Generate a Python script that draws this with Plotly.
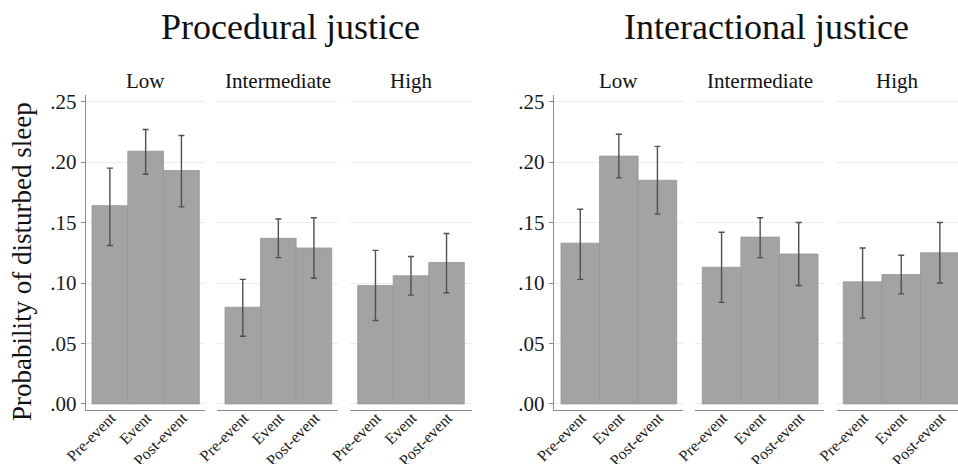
import plotly.graph_objects as go

# ---------------- data ----------------
periods = ["Pre-event", "Event", "Post-event"]
levels = ["Low", "Intermediate", "High"]
panel_titles = ["Procedural justice", "Interactional justice"]
y_ticks = [0.00, 0.05, 0.10, 0.15, 0.20, 0.25]
y_tick_labels = [".00", ".05", ".10", ".15", ".20", ".25"]

# Procedural justice: mean, lower CI, upper CI (per level, per period)
proc_low_mean = [0.164, 0.209, 0.193]
proc_low_lo = [0.131, 0.190, 0.163]
proc_low_hi = [0.195, 0.227, 0.222]
proc_mid_mean = [0.080, 0.137, 0.129]
proc_mid_lo = [0.056, 0.121, 0.104]
proc_mid_hi = [0.103, 0.153, 0.154]
proc_high_mean = [0.098, 0.106, 0.117]
proc_high_lo = [0.069, 0.090, 0.092]
proc_high_hi = [0.127, 0.122, 0.141]

# Interactional justice
inter_low_mean = [0.133, 0.205, 0.185]
inter_low_lo = [0.103, 0.187, 0.157]
inter_low_hi = [0.161, 0.223, 0.213]
inter_mid_mean = [0.113, 0.138, 0.124]
inter_mid_lo = [0.084, 0.121, 0.098]
inter_mid_hi = [0.142, 0.154, 0.150]
inter_high_mean = [0.101, 0.107, 0.125]
inter_high_lo = [0.071, 0.091, 0.100]
inter_high_hi = [0.129, 0.123, 0.150]

groups = [
    (proc_low_mean, proc_low_lo, proc_low_hi),
    (proc_mid_mean, proc_mid_lo, proc_mid_hi),
    (proc_high_mean, proc_high_lo, proc_high_hi),
    (inter_low_mean, inter_low_lo, inter_low_hi),
    (inter_mid_mean, inter_mid_lo, inter_mid_hi),
    (inter_high_mean, inter_high_lo, inter_high_hi),
]

# ---------------- layout geometry ----------------
W, H = 958, 464
TOP, BOT = 95, 410
panel_px = [(86, 205), (217, 338), (350, 472), (554, 683.3), (695, 824.3), (837.3, 958)]
x_ranges = [(-0.668, 2.659), (-0.725, 2.677), (-0.717, 2.717),
            (-0.681, 2.671), (-0.689, 2.663), (-0.655, 2.47)]
y_range = [-0.005, 0.2555]

FONT = "Liberation Serif, Times New Roman, serif"
BAR_COLOR = "#a3a3a3"
AXIS_COLOR = "#8a8a8a"

fig = go.Figure()

for k, (mean, lo, hi) in enumerate(groups):
    idx = k + 1
    xa = "x" if idx == 1 else f"x{idx}"
    ya = "y" if idx == 1 else f"y{idx}"
    fig.add_trace(go.Bar(
        x=periods, y=mean,
        xaxis=xa, yaxis=ya,
        marker=dict(color=BAR_COLOR, line=dict(color="#969696", width=0.8)),
        error_y=dict(type="data", symmetric=False,
                     array=[h - m for h, m in zip(hi, mean)],
                     arrayminus=[m - l for m, l in zip(mean, lo)],
                     color="#505050", thickness=1.4, width=3),
        width=1.0,
        showlegend=False,
        hoverinfo="skip",
    ))

layout = dict(
    width=W, height=H,
    margin=dict(l=0, r=0, t=TOP, b=H - BOT, pad=0, autoexpand=False),
    plot_bgcolor="white", paper_bgcolor="white",
    bargap=0,
    font=dict(family=FONT, color="#1a1a1a"),
    showlegend=False,
)

for k in range(6):
    idx = k + 1
    xkey = "xaxis" if idx == 1 else f"xaxis{idx}"
    ykey = "yaxis" if idx == 1 else f"yaxis{idx}"
    ya = "y" if idx == 1 else f"y{idx}"
    p0, p1 = panel_px[k]
    layout[xkey] = dict(
        domain=[p0 / W, p1 / W],
        anchor=ya,
        range=list(x_ranges[k]),
        type="category",
        showline=True, linecolor=AXIS_COLOR, linewidth=1.3,
        ticks="", showgrid=False, zeroline=False,
        tickangle=-45,
        ticklabelstandoff=-9,
        ticklabelshift=1,
        tickfont=dict(family=FONT, size=16, color="#1a1a1a"),
        automargin=False,
        fixedrange=True,
    )
    xa = "x" if idx == 1 else f"x{idx}"
    first = (k % 3 == 0)
    layout[ykey] = dict(
        domain=[0, 1],
        anchor=xa,
        range=y_range,
        tickvals=y_ticks,
        ticktext=y_tick_labels,
        showticklabels=first,
        ticks="outside" if first else "",
        ticklen=4, tickwidth=1, tickcolor=AXIS_COLOR,
        showline=first, linecolor=AXIS_COLOR, linewidth=1.3,
        showgrid=True, gridcolor="#ececec", gridwidth=1,
        zeroline=False,
        tickfont=dict(family=FONT, size=21, color="#1a1a1a"),
        automargin=False,
        fixedrange=True,
    )

fig.update_layout(**layout)

def py(pixel_y):
    return (BOT - pixel_y) / (BOT - TOP)

annotations = []
# Main titles
for f, title in enumerate(panel_titles):
    cx = [290.5, 766.7][f]
    annotations.append(dict(
        text=title, xref="paper", yref="paper",
        x=cx / W, y=py(27), xanchor="center", yanchor="middle",
        showarrow=False, font=dict(family=FONT, size=36, color="#111111"),
    ))
# Level labels
for k in range(6):
    idx = k + 1
    xa = "x" if idx == 1 else f"x{idx}"
    annotations.append(dict(
        text=levels[k % 3], xref=f"{xa} domain", yref="paper",
        x=0.5, y=py(81), xanchor="center", yanchor="middle",
        showarrow=False, font=dict(family=FONT, size=21, color="#111111"),
    ))
# Y-axis title
annotations.append(dict(
    text="Probability of disturbed sleep", xref="paper", yref="paper",
    x=22 / W, y=py(262), xanchor="center", yanchor="middle",
    textangle=-90, showarrow=False,
    font=dict(family=FONT, size=27, color="#111111"),
))
fig.update_layout(annotations=annotations)

fig.write_html("out.html", config={"displayModeBar": False, "staticPlot": True},
               post_script="document.body.style.margin='0';")
